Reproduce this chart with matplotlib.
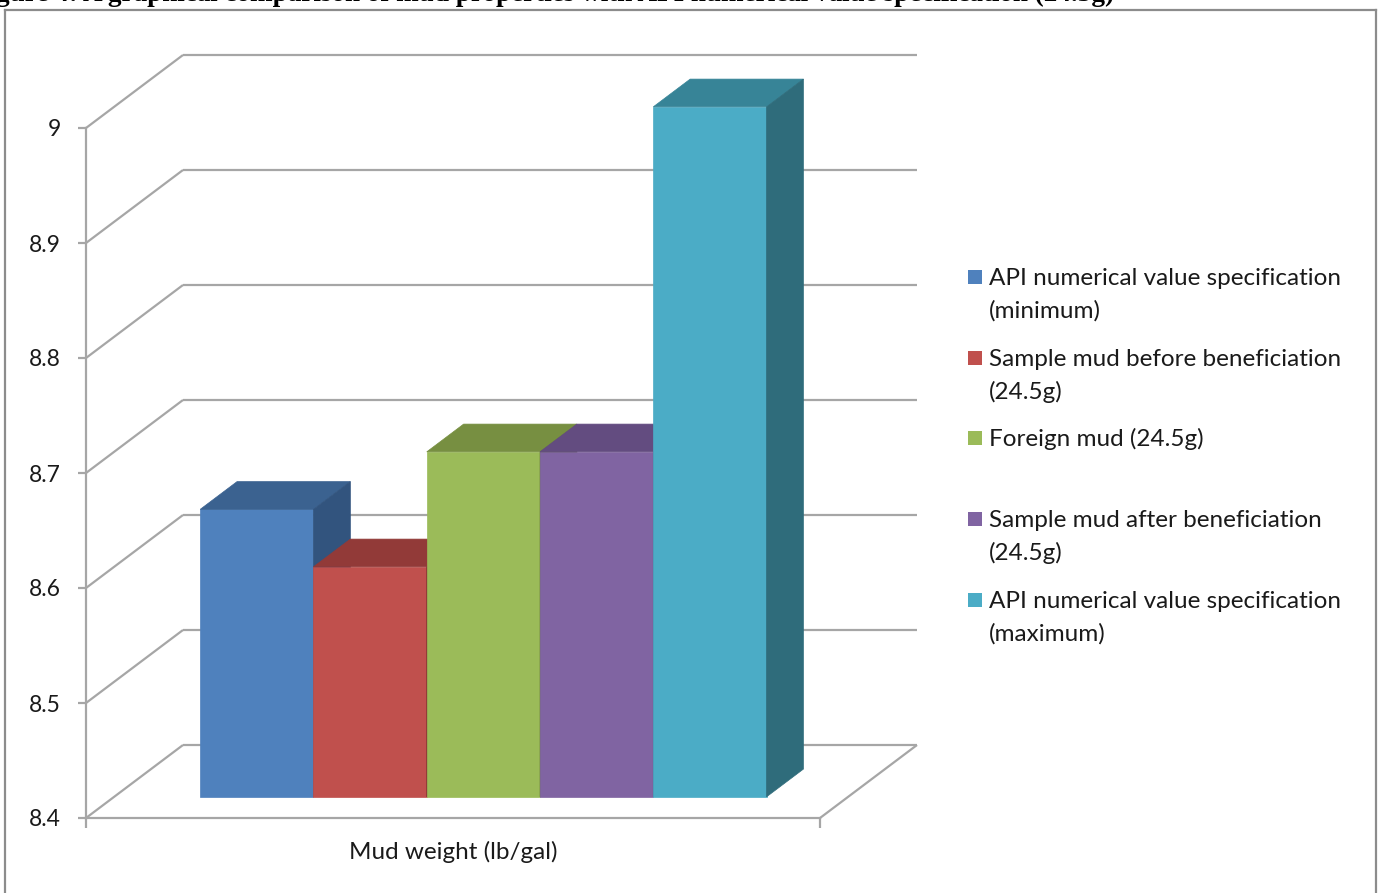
import matplotlib
matplotlib.use("Agg")
import matplotlib.pyplot as plt
import numpy as np
from matplotlib.patches import Polygon, Rectangle
from matplotlib.lines import Line2D
from matplotlib.transforms import ScaledTranslation, IdentityTransform

plt.rcParams["font.family"] = ["Lato", "DejaVu Sans"]

# --- data ---
SERIES = [
    "API numerical value specification\n(minimum)",
    "Sample mud before beneficiation\n(24.5g)",
    "Foreign mud (24.5g)",
    "Sample mud after beneficiation\n(24.5g)",
    "API numerical value specification\n(maximum)",
]
MUD_WEIGHT = [8.65, 8.60, 8.70, 8.70, 9.00]
YTICKS = [8.4, 8.5, 8.6, 8.7, 8.8, 8.9, 9.0]
CATEGORY = "Mud weight (lb/gal)"
TITLE = ("Figure 4: A graphical comparison of mud properties with API "
         "numerical value specification (24.5g)")

# Excel 2007 palette: front / top / side shades
FRONT = ["#4f81bd", "#c0504d", "#9bbb59", "#8064a2", "#4bacc6"]
TOP = ["#3b6290", "#923a38", "#778f41", "#634c80", "#378497"]
SIDE = ["#32547e", "#7f3230", "#66793a", "#53406c", "#2f6c7b"]
GRID = "#a6a6a6"
TXT = "#1a1a1a"

W, H = 1384, 893
fig = plt.figure(figsize=(W / 100, H / 100), dpi=100)
fig.patch.set_facecolor("white")

# front plane of the plot box (pixels 86..820 x, 818..128 y)
ax = fig.add_axes([86 / W, 75 / H, 734 / W, 690 / H])
ax.set_facecolor("none")
XMIN, XMAX = -1.26, 5.22
ax.set_xlim(XMIN, XMAX)
ax.set_ylim(YTICKS[0], YTICKS[-1])

# depth vector of the floor (inches), bars sit between D0 and D1
DX, DY = 0.97, 0.73
D0, D1 = 0.29, 0.67


def pt(x, v, d):
    tr = ax.transData + ScaledTranslation(DX * d, DY * d, fig.dpi_scale_trans)
    return tr.transform((x, v))


def face(points, color, z):
    ax.add_patch(Polygon(points, closed=True, facecolor=color, edgecolor=color,
                         linewidth=0.5, transform=IdentityTransform(),
                         clip_on=False, zorder=z))


def seg(p, q, z=1):
    ax.add_line(Line2D([p[0], q[0]], [p[1], q[1]], color=GRID, lw=1.6,
                       transform=IdentityTransform(), clip_on=False, zorder=z,
                       solid_capstyle="butt"))


# side wall + back wall gridlines
for v in YTICKS:
    seg(pt(XMIN, v, 0), pt(XMIN, v, 1))
    seg(pt(XMIN, v, 1), pt(XMAX, v, 1))
# floor right edge
seg(pt(XMAX, YTICKS[0], 0), pt(XMAX, YTICKS[0], 1))

# bars, left to right so later faces cover hidden ones
base = YTICKS[0]
xs = np.arange(len(MUD_WEIGHT))
bw = 1.0
for i, (x, v) in enumerate(zip(xs, MUD_WEIGHT)):
    l, r = x - bw / 2, x + bw / 2
    z = 10 + 3 * i
    face([pt(l, base, D0), pt(r, base, D0), pt(r, v, D0), pt(l, v, D0)], FRONT[i], z)
    face([pt(l, v, D0), pt(r, v, D0), pt(r, v, D1), pt(l, v, D1)], TOP[i], z + 1)
    face([pt(r, base, D0), pt(r, base, D1), pt(r, v, D1), pt(r, v, D0)], SIDE[i], z + 2)

# axes
for s in ("top", "right"):
    ax.spines[s].set_visible(False)
for s in ("left", "bottom"):
    ax.spines[s].set_color(GRID)
    ax.spines[s].set_linewidth(1.6)
ax.set_yticks(YTICKS, [f"{t:g}" for t in YTICKS])
ax.set_xticks([XMIN, XMAX], ["", ""])
ax.tick_params(axis="y", length=6, width=1.6, color=GRID, pad=12,
               labelsize=16.5, labelcolor=TXT)
ax.tick_params(axis="x", length=7, width=1.6, color=GRID)
ax.set_xlabel(CATEGORY, fontsize=17.5, color=TXT, labelpad=6)

# legend: square beside the first line, wrapped lines 33 px apart
leg_y = [277, 358, 438, 519, 600]
for i, (lab, y) in enumerate(zip(SERIES, leg_y)):
    fig.patches.append(Rectangle((968 / W, 1 - (y + 7) / H), 14 / W, 14 / H,
                                 facecolor=FRONT[i], edgecolor="none",
                                 transform=fig.transFigure))
    for k, line in enumerate(lab.split("\n")):
        fig.text(989 / W, 1 - (y + 8 + 33 * k) / H, line, ha="left",
                 va="baseline", fontsize=17.5, color=TXT)

# chart frame (bottom edge runs off the page)
for xa, ya in (([5, 5], [893, 10]), ([5, 1376], [10, 10]), ([1376, 1376], [10, 893])):
    fig.add_artist(Line2D([x / W for x in xa], [1 - y / H for y in ya],
                          color="#8c8c8c", lw=1.6, transform=fig.transFigure))

# caption above the frame, mostly cut by the page edge
fig.text(-28 / W, 1 - 1 / H, TITLE, ha="left", va="baseline", fontsize=19.5,
         fontweight="bold", family=["Liberation Serif"], color="black")

fig.savefig("out.png", dpi=100, facecolor="white")
